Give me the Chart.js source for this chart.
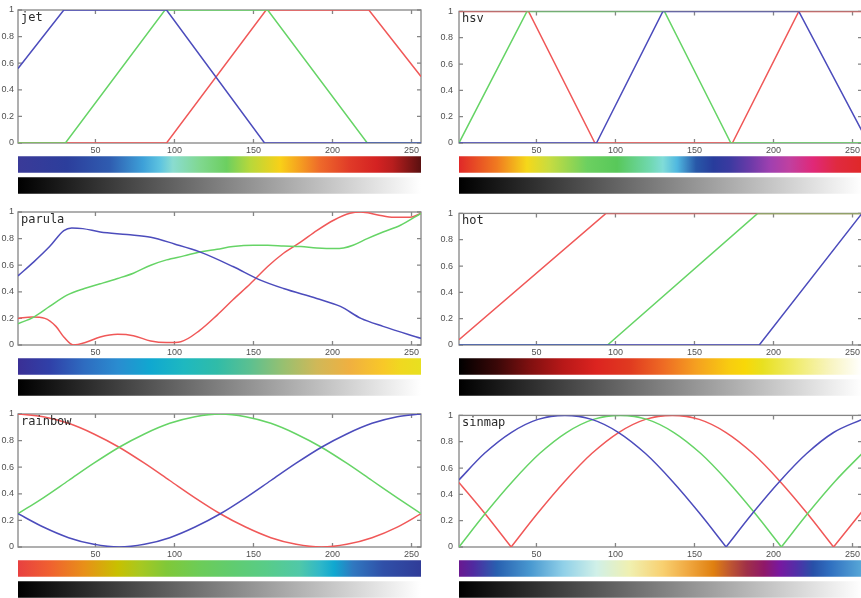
<!DOCTYPE html>
<html><head><meta charset="utf-8">
<script src="https://cdn.jsdelivr.net/npm/chart.js@4/dist/chart.umd.min.js"></script>
<style>
html,body{margin:0;padding:0;background:#fff;overflow:hidden;width:861px;height:598px;}
#wrap{position:relative;width:861px;height:598px;overflow:hidden;background:#fff;}
canvas{position:absolute;}
</style></head><body><div id="wrap"></div>
<script>
// ---- tick values / labels ----
const xTickValues = [50, 100, 150, 200, 250];
const yTickValues = [0, 0.2, 0.4, 0.6, 0.8, 1];
const yTickLabels = ['0', '0.2', '0.4', '0.6', '0.8', '1'];
const mapNames = ['jet', 'hsv', 'parula', 'hot', 'rainbow', 'sinmap'];

// ---- jet ----
const jetRed   = [[1,0],[95,0],[158,1],[223,1],[256,0.5]];
const jetGreen = [[1,0],[31,0],[94,1],[159,1],[222,0],[256,0]];
const jetBlue  = [[1,0.56],[30,1],[95,1],[157,0],[256,0]];
// ---- hsv ----
const hsvRed   = [[1,1],[45,1],[87,0],[174,0],[216,1],[256,1]];
const hsvGreen = [[1,0],[44,1],[131,1],[173,0],[256,0]];
const hsvBlue  = [[1,0],[88,0],[130,1],[216,1],[256,0.09]];
// ---- parula ----
const parulaRed   = [[1,0.2],[10,0.21],[18,0.2],[25,0.14],[30,0.06],[36,0.0],[44,0.02],[53,0.06],[64,0.08],[74,0.07],[85,0.03],[95,0.018],[104,0.025],[116,0.11],[127,0.225],[137,0.34],[148,0.46],[159,0.59],[169,0.69],[180,0.775],[190,0.86],[201,0.94],[211,0.99],[218,1.0],[228,0.98],[239,0.96],[249,0.96],[256,0.99]];
const parulaGreen = [[1,0.16],[11,0.21],[21,0.29],[32,0.375],[43,0.425],[53,0.46],[64,0.5],[74,0.54],[85,0.6],[95,0.64],[106,0.67],[116,0.70],[127,0.72],[137,0.74],[150,0.75],[159,0.75],[169,0.745],[180,0.74],[190,0.73],[201,0.725],[207,0.73],[213,0.75],[222,0.8],[232,0.85],[243,0.9],[256,0.99]];
const parulaBlue  = [[1,0.52],[11,0.625],[21,0.74],[30,0.86],[35,0.88],[42,0.875],[53,0.85],[70,0.83],[85,0.81],[100,0.76],[116,0.70],[137,0.59],[154,0.49],[169,0.425],[190,0.35],[205,0.29],[218,0.2],[232,0.14],[256,0.05]];
// ---- hot ----
const hotRed   = [[1,0.04],[94,1],[256,1]];
const hotGreen = [[1,0],[95,0],[190,1],[256,1]];
const hotBlue  = [[1,0],[191,0],[256,1]];
// ---- rainbow ----
const rainbowRed   = [[1,1],[17,0.98],[33,0.93],[49,0.85],[65,0.75],[81,0.63],[97,0.5],[113,0.37],[129,0.25],[145,0.15],[161,0.07],[177,0.02],[193,0],[209,0.02],[225,0.07],[241,0.15],[256,0.25]];
const rainbowGreen = [[1,0.25],[17,0.37],[33,0.5],[49,0.63],[65,0.75],[81,0.85],[97,0.93],[113,0.98],[129,1],[145,0.98],[161,0.93],[177,0.85],[193,0.75],[209,0.63],[225,0.5],[241,0.37],[256,0.25]];
const rainbowBlue  = [[1,0.25],[17,0.15],[33,0.07],[49,0.02],[65,0],[81,0.02],[97,0.07],[113,0.15],[129,0.25],[145,0.37],[161,0.5],[177,0.63],[193,0.75],[209,0.85],[225,0.93],[241,0.98],[256,1]];
// ---- sinmap (null = break at the cusp) ----
const sinmapRed   = [[1,0.49],[17,0.26],[34,0],[34,null],[34,0],[51,0.26],[68,0.5],[85,0.71],[102,0.87],[119,0.97],[136,1],[153,0.97],[170,0.87],[187,0.71],[204,0.5],[221,0.26],[238,0],[238,null],[238,0],[256,0.27]];
const sinmapGreen = [[1,0],[18,0.26],[35,0.5],[52,0.71],[69,0.87],[86,0.97],[103,1],[120,0.97],[137,0.87],[154,0.71],[171,0.5],[188,0.26],[205,0],[205,null],[205,0],[222,0.26],[239,0.5],[256,0.71]];
const sinmapBlue  = [[1,0.51],[17,0.71],[34,0.87],[51,0.97],[68,1],[85,0.97],[102,0.87],[119,0.71],[136,0.5],[153,0.26],[170,0],[170,null],[170,0],[187,0.26],[204,0.5],[221,0.71],[238,0.87],[256,0.97]];

// ---- colorbar stops (index, colour) ----
const jetStopX = [1,32,59,80,91,99,116,133,148,167,179,192,211,228,238,256];
const jetStopC = ['#3a3a98','#2c3e9c','#2f5cb0','#3da0d8','#5ec4e0','#8adcd0','#80d890','#6ccf60','#b8d83a','#f8d018','#f5a020','#ee6a2a','#e03a28','#d42222','#b81e1e','#5a1010'];
const hsvStopX = [1,25,44,58,82,101,122,130,139,151,162,172,185,198,210,225,240,256];
const hsvStopC = ['#e02828','#f07a20','#f5d81a','#c8dc40','#6cd060','#58c85a','#70d8b0','#80dcd8','#50b8e0','#2858a8','#283c9c','#3a3aa0','#6a3aa8','#a040b0','#c040a0','#e02878','#e02a40','#e02828'];
const parulaStopX = [1,21,43,64,85,106,127,148,169,190,211,232,243,256];
const parulaStopC = ['#3a2f95','#3040a8','#2e6cc0','#2a8cd0','#10a8d0','#1eb8c0','#30bca8','#5cc090','#98c070','#d0b858','#f0b040','#f8c828','#f0d820','#e8e020'];
const hotStopX = [1,25,46,67,88,109,130,151,172,182,193,215,236,256];
const hotStopC = ['#000000','#3a0808','#801010','#b81818','#dc2420','#e03a20','#ee6a24','#f5a020','#f8cc10','#f8d808','#e8e020','#f0ec70','#f8f4c0','#ffffff'];
const rainbowStopX = [1,21,43,64,78,95,116,137,158,179,192,201,213,232,256];
const rainbowStopC = ['#e84040','#f06030','#e89018','#c8c000','#a8c820','#80c838','#6ccc58','#60cc70','#58cc88','#50c8a8','#30b8c8','#10a8d0','#3078c0','#3050a8','#303c98'];
const sinmapStopX = [1,10,25,46,67,88,109,130,146,162,172,183,194,204,215,225,236,256];
const sinmapStopC = ['#6a1890','#502aa0','#2860b0','#4898d0','#90d0e8','#d0f0e8','#f0f0b0','#f8d070','#f0a840','#e08010','#c05830','#a03048','#901868','#7818a0','#5030a8','#2850a8','#3070c0','#58a8d8'];
const grayStopX = [1,256];
const grayStopC = ['#000000','#ffffff'];

const panels = [
  {name: mapNames[0], r: jetRed, g: jetGreen, b: jetBlue, smooth: false, sx: jetStopX, sc: jetStopC},
  {name: mapNames[1], r: hsvRed, g: hsvGreen, b: hsvBlue, smooth: false, sx: hsvStopX, sc: hsvStopC},
  {name: mapNames[2], r: parulaRed, g: parulaGreen, b: parulaBlue, smooth: true, sx: parulaStopX, sc: parulaStopC},
  {name: mapNames[3], r: hotRed, g: hotGreen, b: hotBlue, smooth: false, sx: hotStopX, sc: hotStopC},
  {name: mapNames[4], r: rainbowRed, g: rainbowGreen, b: rainbowBlue, smooth: true, sx: rainbowStopX, sc: rainbowStopC},
  {name: mapNames[5], r: sinmapRed, g: sinmapGreen, b: sinmapBlue, smooth: true, sx: sinmapStopX, sc: sinmapStopC}
];

// ---- styling ----
const RED = '#f05858', GREEN = '#66d466', BLUE = '#4c4cbc';
const TICK_FONT = {family: 'Liberation Sans, Arial, sans-serif', size: 9};
const TICK_COLOR = '#505050';
const FRAME_COLOR = '#858585';

const framePlugin = {
  id: 'panelFrame',
  beforeDatasetsDraw(chart) {
    const {ctx, chartArea: a, scales: {x, y}} = chart;
    ctx.save();
    ctx.strokeStyle = FRAME_COLOR;
    ctx.lineWidth = 1.3;
    ctx.strokeRect(a.left, a.top, a.right - a.left, a.bottom - a.top);
    ctx.beginPath();
    x.ticks.forEach(t => {
      const p = x.getPixelForValue(t.value);
      ctx.moveTo(p, a.bottom); ctx.lineTo(p, a.bottom - 4);
      ctx.moveTo(p, a.top); ctx.lineTo(p, a.top + 4);
    });
    y.ticks.forEach(t => {
      const p = y.getPixelForValue(t.value);
      ctx.moveTo(a.left, p); ctx.lineTo(a.left + 4, p);
      ctx.moveTo(a.right, p); ctx.lineTo(a.right - 4, p);
    });
    ctx.stroke();
    ctx.restore();
  },
  afterDatasetsDraw(chart, args, opts) {
    const {ctx, chartArea: a} = chart;
    ctx.save();
    ctx.fillStyle = '#2a2a2a';
    ctx.font = '12px "DejaVu Sans Mono", monospace';
    ctx.textBaseline = 'alphabetic';
    ctx.textAlign = 'left';
    ctx.fillText(opts.name, a.left + 3, a.top + 11);
    ctx.restore();
  }
};

function gradientFor(chart, sx, sc) {
  const area = chart.chartArea;
  if (!area) return sc[0];
  const xs = chart.scales.x;
  const p0 = xs.getPixelForValue(sx[0]);
  const p1 = xs.getPixelForValue(sx[sx.length - 1]);
  const g = chart.ctx.createLinearGradient(p0, 0, p1, 0);
  sx.forEach((v, i) => g.addColorStop((v - sx[0]) / (sx[sx.length - 1] - sx[0]), sc[i]));
  return g;
}

const wrap = document.getElementById('wrap');
function addCanvas(left, top, w, h) {
  const c = document.createElement('canvas');
  c.width = w; c.height = h;
  c.style.left = left + 'px'; c.style.top = top + 'px';
  c.style.width = w + 'px'; c.style.height = h + 'px';
  wrap.appendChild(c);
  return c;
}

panels.forEach((p, idx) => {
  const col = idx % 2, row = Math.floor(idx / 2);
  const left = col === 0 ? 0 : 431;
  const axisW = col === 0 ? 18 : 28;
  const canvasW = col === 0 ? 430 : 440;
  const plotTop = 10 + row * 202;
  const lc = addCanvas(left, plotTop - 10, canvasW, 157);
  // dataset 0 is drawn on top: blue, then green, then red underneath
  const series = [[p.b, BLUE], [p.g, GREEN], [p.r, RED]];
  new Chart(lc, {
    type: 'line',
    data: {datasets: series.map(s => ({
      data: s[0], borderColor: s[1], borderWidth: 1.5, pointRadius: 0, fill: false,
      tension: p.smooth ? 0.4 : 0, cubicInterpolationMode: p.smooth ? 'monotone' : 'default',
      spanGaps: false
    }))},
    options: {
      animation: false, responsive: false, devicePixelRatio: 1, events: [],
      layout: {padding: {top: 10, right: 9, left: 0, bottom: 0}},
      plugins: {legend: {display: false}, tooltip: {enabled: false}, panelFrame: {name: p.name}},
      scales: {
        x: {
          type: 'linear', min: 1, max: 256,
          afterBuildTicks: s => { s.ticks = xTickValues.map(v => ({value: v})); },
          afterFit: s => { s.height = 14; },
          grid: {display: false, drawTicks: false}, border: {display: false},
          ticks: {padding: 2, color: TICK_COLOR, font: TICK_FONT, maxRotation: 0, autoSkip: false}
        },
        y: {
          type: 'linear', min: 0, max: 1,
          afterBuildTicks: s => { s.ticks = yTickValues.map(v => ({value: v})); },
          afterFit: s => { s.width = axisW; },
          grid: {display: false, drawTicks: false}, border: {display: false},
          ticks: {padding: col === 0 ? 4 : 6, color: TICK_COLOR, font: TICK_FONT, autoSkip: false,
                  callback: (v, i) => yTickLabels[i]}
        }
      }
    },
    plugins: [framePlugin]
  });

  const bc = addCanvas(left, plotTop + 144, canvasW, 42);
  new Chart(bc, {
    type: 'bar',
    data: {labels: [p.name, 'gray'], datasets: [{
      data: [[1, 256], [1, 256]],
      backgroundColor: ctx => ctx.dataIndex === 0 ? gradientFor(ctx.chart, p.sx, p.sc) : gradientFor(ctx.chart, grayStopX, grayStopC),
      borderWidth: 0, borderSkipped: false, barThickness: 16
    }]},
    options: {
      indexAxis: 'y', animation: false, responsive: false, devicePixelRatio: 1, events: [],
      layout: {padding: {left: axisW, right: 9, top: 0, bottom: 0}},
      plugins: {legend: {display: false}, tooltip: {enabled: false}},
      scales: {x: {type: 'linear', min: 1, max: 256, display: false}, y: {display: false}}
    }
  });
});
</script></body></html>
